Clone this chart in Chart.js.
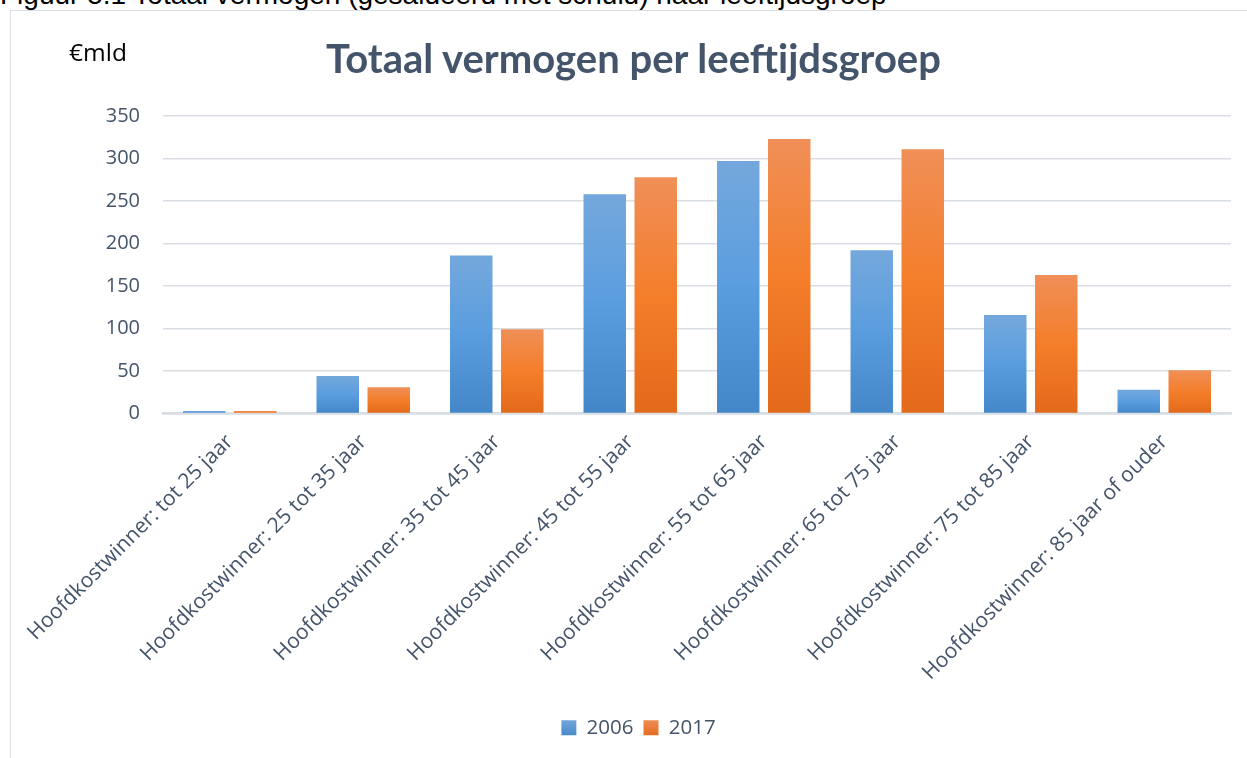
<!DOCTYPE html>
<html>
<head>
<meta charset="utf-8">
<script src="https://cdn.jsdelivr.net/npm/chart.js@4"></script>
<style>
  html, body { margin:0; padding:0; background:#ffffff; }
  #wrap { position:relative; width:1247px; height:758px; overflow:hidden; background:#fff; }
  #caption { position:absolute; left:0; top:-21px; line-height:28px; font:28px "Liberation Sans", Arial, sans-serif; color:#000; white-space:nowrap; }
  #frame { position:absolute; left:10px; top:10px; width:1260px; height:780px; border:1.5px solid #d9dee7; box-sizing:border-box; }
  #unit { position:absolute; left:69px; top:35px; font:24.5px "Open Sans", sans-serif; color:#000; }
  #title { position:absolute; left:0; width:1267px; top:34px; text-align:center; font:bold 40px "Lato", sans-serif; color:#44546a; }
  canvas { position:absolute; left:0; top:0; }
</style>
</head>
<body>
<div id="wrap">
  <div id="caption">Figuur 5.1 Totaal vermogen (gesaldeerd met schuld) naar leeftijdsgroep</div>
  <div id="frame"></div>
  <canvas id="c" width="1247" height="758"></canvas>
  <div id="unit">€mld</div>
  <div id="title">Totaal vermogen per leeftijdsgroep</div>
</div>
<script>
const categories = [
  "Hoofdkostwinner: tot 25 jaar",
  "Hoofdkostwinner: 25 tot 35 jaar",
  "Hoofdkostwinner: 35 tot 45 jaar",
  "Hoofdkostwinner: 45 tot 55 jaar",
  "Hoofdkostwinner: 55 tot 65 jaar",
  "Hoofdkostwinner: 65 tot 75 jaar",
  "Hoofdkostwinner: 75 tot 85 jaar",
  "Hoofdkostwinner: 85 jaar of ouder"
];
const seriesNames = ["2006", "2017"];
const values2006 = [3, 44, 186, 258, 297, 192, 116, 28];
const values2017 = [3, 31, 99, 278, 323, 311, 163, 51];
const yTicks = [0, 50, 100, 150, 200, 250, 300, 350];

const TEXT = "#44546a";
const GRID = "#d9dde4";

function barGradient(stops) {
  return function(ctx) {
    const chart = ctx.chart;
    const area = chart.chartArea;
    if (!area) return stops[1];
    if (ctx.type !== 'data') return stops[1];
    const y = chart.scales.y;
    const v = ctx.raw;
    const top = y.getPixelForValue(v);
    const base = y.getPixelForValue(0);
    if (!(base - top > 0.5)) return stops[1];
    const g = chart.ctx.createLinearGradient(0, top, 0, base);
    g.addColorStop(0, stops[0]);
    g.addColorStop(0.5, stops[1]);
    g.addColorStop(1, stops[2]);
    return g;
  };
}
const blueStops = ["#74a8dc", "#5a9ddf", "#4487c8"];
const orangeStops = ["#f08f58", "#f47e2a", "#e3691a"];

new Chart(document.getElementById('c'), {
  type: 'bar',
  data: {
    labels: categories,
    datasets: [
      { label: seriesNames[0], data: values2006, backgroundColor: barGradient(blueStops),
        categoryPercentage: 0.764, barPercentage: 0.833 },
      { label: seriesNames[1], data: values2017, backgroundColor: barGradient(orangeStops),
        categoryPercentage: 0.764, barPercentage: 0.833 }
    ]
  },
  options: {
    responsive: false,
    animation: false,
    layout: { padding: { top: 116, right: 16, left: 46, bottom: 10 } },
    plugins: {
      title: { display: false },
      tooltip: { enabled: false },
      legend: {
        position: 'bottom',
        labels: {
          boxWidth: 15, boxHeight: 15, padding: 10,
          color: TEXT, font: { family: "Open Sans", size: 20.5 },
          generateLabels: function(chart) {
            const cols = [blueStops, orangeStops];
            return chart.data.datasets.map((ds, i) => {
              const g = chart.ctx.createLinearGradient(0, 719, 0, 737);
              g.addColorStop(0, cols[i][0]); g.addColorStop(1, cols[i][2]);
              return { text: ds.label, fillStyle: g, strokeStyle: 'rgba(0,0,0,0)', lineWidth: 0,
                       fontColor: TEXT, datasetIndex: i, hidden: false };
            });
          }
        }
      }
    },
    scales: {
      x: {
        grid: { display: false, drawTicks: false },
        border: { display: true, color: GRID, width: 2.5 },
        ticks: { color: TEXT, font: { family: "Open Sans", size: 21 }, minRotation: 45, maxRotation: 45, padding: 16, autoSkip: false },
        afterFit: function(s) { s.height = 294; }
      },
      y: {
        min: 0, max: 350,
        afterBuildTicks: function(s) { s.ticks = yTicks.map(v => ({ value: v })); },
        grid: { color: GRID, lineWidth: 1.5, drawTicks: false },
        border: { display: false },
        ticks: { color: TEXT, font: { family: "Open Sans", size: 20 }, padding: 23 },
        afterFit: function(s) { s.width = 117; }
      }
    }
  }
});
</script>
</body>
</html>
